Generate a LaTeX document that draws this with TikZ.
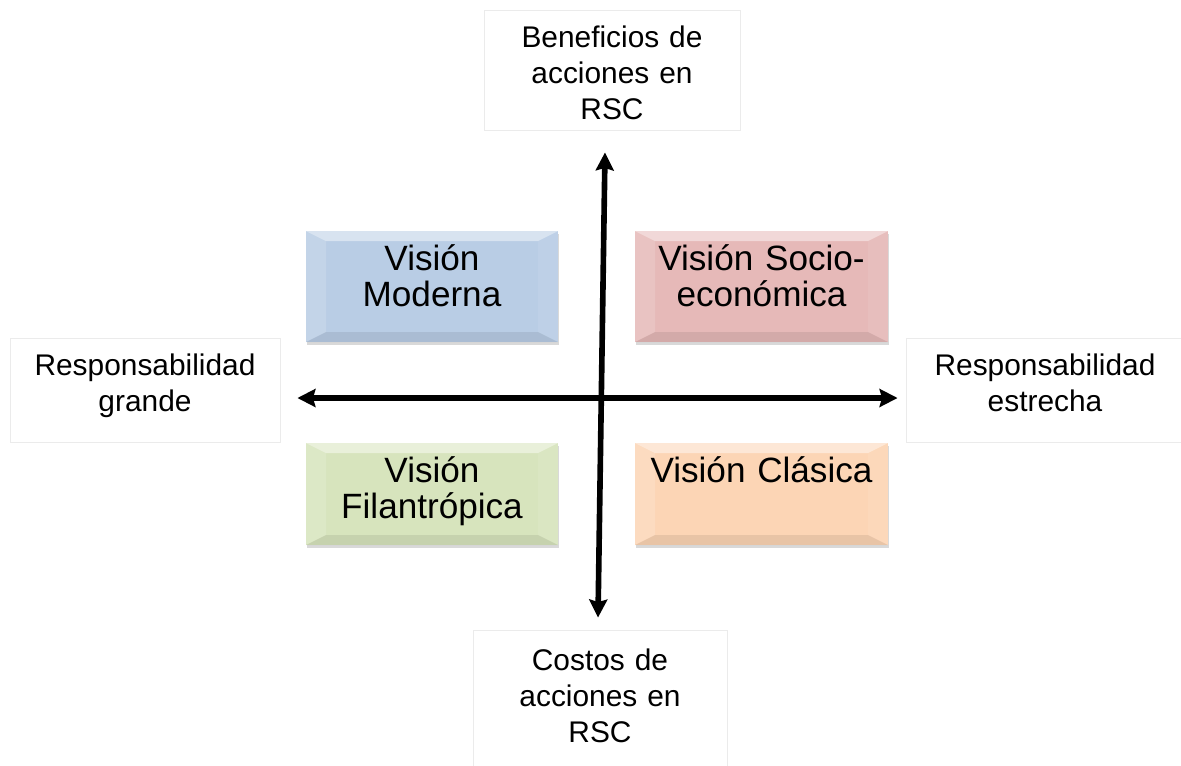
\documentclass[tikz,border=0pt]{standalone}
\usepackage{fontspec}
\setmainfont{Liberation Sans}
\usepackage{xcolor}
\usepackage{tikz}
\usetikzlibrary{arrows.meta,fit,shadows}
\definecolor{azulVision}{HTML}{B9CDE5}
\definecolor{rosaVision}{HTML}{E6B9B8}
\definecolor{verdeVision}{HTML}{D7E4BD}
\definecolor{naranjaVision}{HTML}{FCD5B5}
\tikzset{
  bisel/.style={path picture={
      \coordinate (bnw) at (path picture bounding box.north west);
      \coordinate (bse) at (path picture bounding box.south east);
      \coordinate (bne) at (bnw -| bse);
      \coordinate (bsw) at (bnw |- bse);
      \coordinate (inw) at ([shift={(20,10)}]bnw);
      \coordinate (ine) at ([shift={(-20,10)}]bne);
      \coordinate (ise) at ([shift={(-20,-10)}]bse);
      \coordinate (isw) at ([shift={(20,-10)}]bsw);
      \fill[white,opacity=.45] (bnw) -- (bne) -- (ine) -- (inw) -- cycle;
      \fill[white,opacity=.15] (bnw) -- (inw) -- (isw) -- (bsw) -- cycle;
      \fill[white,opacity=.08] (bne) -- (ine) -- (ise) -- (bse) -- cycle;
      \fill[black,opacity=.08] (bsw) -- (isw) -- (ise) -- (bse) -- cycle;
  }}
}

\begin{document}
\begin{tikzpicture}[x=0.02cm,y=-0.02cm,
    caja/.style={draw=black!8,line width=0.5pt,inner sep=0pt},
    etiqueta/.style={font=\fontsize{17}{20.5}\selectfont,text width=5cm,align=center,anchor=base,inner sep=0pt},
    cuadro/.style={fill=#1,inner sep=0pt,bisel,drop shadow={shadow xshift=0.6pt,shadow yshift=-1.6pt,opacity=.3}},
    textoCuadro/.style={font=\fontsize{20}{21}\selectfont,text width=4.9cm,align=center,anchor=base,inner sep=0pt},
    eje/.style={line width=3.2pt,{Stealth[length=0.36cm,width=0.36cm,inset=0.05cm]}-{Stealth[length=0.36cm,width=0.36cm,inset=0.05cm]}}]
    \useasboundingbox (0,0) rectangle (1181,765);
    \node[caja,fit={(484,10) (740,130)}] (beneficios) {};
    \node[caja,fit={(473,630) (727,775)}] (costos) {};
    \node[caja,fit={(10,338) (280,442)}] (grande) {};
    \node[caja,fit={(906,338) (1185,442)}] (estrecha) {};
    \node[etiqueta] (tBeneficios) at (612,47) {Beneficios de\\acciones en\\RSC};
    \node[etiqueta] (tCostos) at (600,670) {Costos de\\acciones en\\RSC};
    \node[etiqueta] (tGrande) at (145,375) {Responsabilidad\\grande};
    \node[etiqueta] (tEstrecha) at (1045,375) {Responsabilidad\\estrecha};
    \foreach \nom/\col/\xa/\ya/\xb/\yb/\txt in {
        moderna/azulVision/306/231/558/342/{Visión\\Moderna},
        socio/rosaVision/635/231/888/342/{Visión Socio-\\económica},
        filantropica/verdeVision/306/443/558/545/{Visión\\Filantrópica},
        clasica/naranjaVision/635/443/888/545/{Visión Clásica}}{
        \node[cuadro=\col,fit={(\xa,\ya) (\xb,\yb)}] (\nom) {};
        \node[textoCuadro] (t\nom) at ({(\xa+\xb)/2},{\ya+39}) {\txt};
    }
    \draw[eje] ([shift={(-7,22)}]beneficios.south) -- ([shift={(-2,-12)}]costos.north);
    \draw[eje] ([shift={(17,8)}]grande.east) -- ([shift={(-8,8)}]estrecha.west);
\end{tikzpicture}
\end{document}
